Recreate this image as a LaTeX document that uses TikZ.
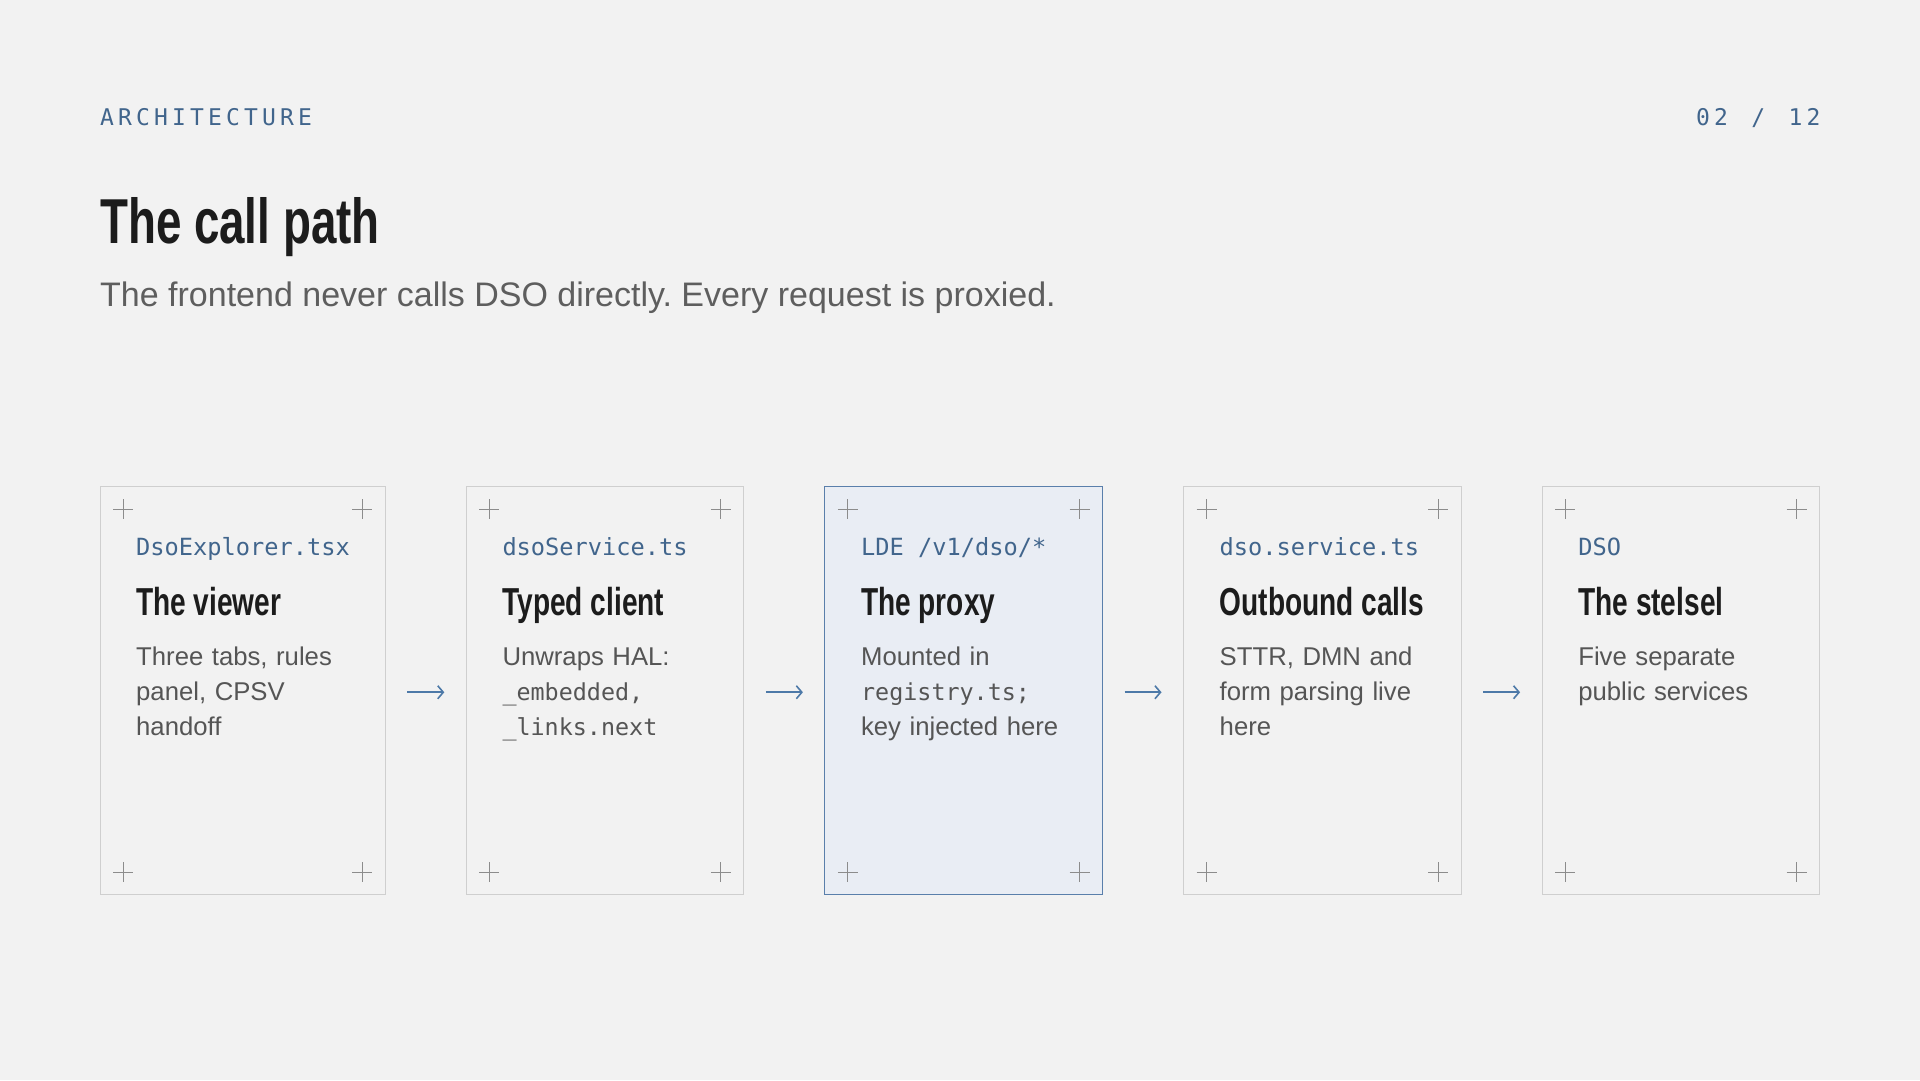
\documentclass[tikz,border=0pt]{standalone}
\usepackage{fontspec}
\setmainfont{Liberation Sans}
\setmonofont[Scale=0.91]{DejaVu Sans Mono}
\newfontfamily\headfont[FakeStretch=0.72]{Liberation Sans Bold}
\newfontfamily\eyebrowfont[LetterSpace=18,WordSpace=1.3]{DejaVu Sans Mono}
\usetikzlibrary{positioning,arrows.meta}
\frenchspacing

\definecolor{paper}{HTML}{F2F2F2}
\definecolor{ink}{HTML}{1C1C1C}
\definecolor{muted}{HTML}{555555}
\definecolor{steel}{HTML}{41658C}
\definecolor{flowblue}{HTML}{4D79A8}
\definecolor{rule}{HTML}{CFCFCF}
\definecolor{tickgray}{HTML}{8C8C8C}
\definecolor{hilite}{HTML}{E9EDF4}
\definecolor{hiliteedge}{HTML}{5A7FAB}

\tikzset{card/.style={draw=rule, line width=1pt, inner sep=0pt, outer sep=0pt, anchor=north west,
        minimum width=277.6pt, minimum height=408.5pt},
    focus/.style={card, fill=hilite, draw=hiliteedge},
    eyebrow/.style={inner sep=0pt, text=steel, font=\eyebrowfont\fontsize{23}{23}\selectfont},
    tag/.style={anchor=base west, inner sep=0pt, text=steel, font=\fontsize{26}{26}\selectfont\ttfamily},
    cardhead/.style={anchor=base west, inner sep=0pt, text=ink, font=\headfont\fontsize{39}{39}\selectfont},
    blurb/.style={anchor=base west, inner sep=0pt, text=muted, align=left, text width=240pt,
        font=\fontsize{25.7}{35}\selectfont},
    crosshair/.style={draw=tickgray, line width=1pt},
    flow/.style={draw=flowblue, line width=1.6pt, -{Straight Barb[length=5.5pt,width=13pt]},
        shorten <=22pt, shorten >=22pt},
    }

\begin{document}
\begin{tikzpicture}[x=1pt,y=-1pt]
\useasboundingbox (0,0) rectangle (1920,1080);
\fill[paper] (0,0) rectangle (1920,1080);

% header
\node[eyebrow, anchor=base west] (kicker) at (100,125) {ARCHITECTURE};
\node[eyebrow, anchor=base west] (pager) at (1696,125.5) {02 / 12};
\node[anchor=base west, inner sep=0pt, text=ink, font=\headfont\fontsize{63.5}{63.5}\selectfont]
    (title) at (100,243) {The call path};
\node[anchor=base west, inner sep=0pt, text=muted!95!white, font=\fontsize{34}{34}\selectfont]
    (subtitle) at (100,306) {The frontend never calls DSO directly. Every request is proxied.};

% cards
\node[card, minimum width=285.3pt] (viewer) at (100,486) {};
\node[card, right=81pt of viewer] (client) {};
\node[focus, right=81pt of client] (proxy) {};
\node[card, right=81pt of proxy] (outbound) {};
\node[card, right=81pt of outbound] (stelsel) {};

\foreach \c in {viewer,client,proxy,outbound,stelsel}{
    \foreach \p/\dx/\dy in {north west/23/23, north east/-23/23, south west/23/-22.5, south east/-23/-22.5}
        \draw[crosshair] ([shift={(\dx,\dy)}]\c.\p) +(-10,0) -- +(10,0) +(0,-10) -- +(0,10);
}

\node[tag] (viewer-tag) at ([shift={(36,69)}]viewer.north west) {DsoExplorer.tsx};
\node[cardhead] (viewer-head) at ([shift={(36,129)}]viewer.north west) {The viewer};
\node[blurb] (viewer-text) at ([shift={(36,179)}]viewer.north west)
    {Three tabs, rules\\panel, CPSV\\handoff};

\node[tag] (client-tag) at ([shift={(36,69)}]client.north west) {dsoService.ts};
\node[cardhead] (client-head) at ([shift={(36,129)}]client.north west) {Typed client};
\node[blurb] (client-text) at ([shift={(36,179)}]client.north west)
    {Unwraps HAL:\\\texttt{\_embedded,}\\\texttt{\_links.next}};

\node[tag] (proxy-tag) at ([shift={(36,69)}]proxy.north west) {LDE /v1/dso/*};
\node[cardhead] (proxy-head) at ([shift={(36,129)}]proxy.north west) {The proxy};
\node[blurb] (proxy-text) at ([shift={(36,179)}]proxy.north west)
    {Mounted in\\\texttt{registry.ts;}\\key injected here};

\node[tag] (outbound-tag) at ([shift={(36,69)}]outbound.north west) {dso.service.ts};
\node[cardhead] (outbound-head) at ([shift={(36,129)}]outbound.north west) {Outbound calls};
\node[blurb] (outbound-text) at ([shift={(36,179)}]outbound.north west)
    {STTR, DMN and\\form parsing live\\here};

\node[tag] (stelsel-tag) at ([shift={(36,69)}]stelsel.north west) {DSO};
\node[cardhead] (stelsel-head) at ([shift={(36,129)}]stelsel.north west) {The stelsel};
\node[blurb] (stelsel-text) at ([shift={(36,179)}]stelsel.north west)
    {Five separate\\public services};

% arrows between cards
\foreach \a/\b in {viewer/client, client/proxy, proxy/outbound, outbound/stelsel}
    \draw[flow] ([yshift=-2]\a.east) -- ([yshift=-2]\b.west);
\end{tikzpicture}
\end{document}
